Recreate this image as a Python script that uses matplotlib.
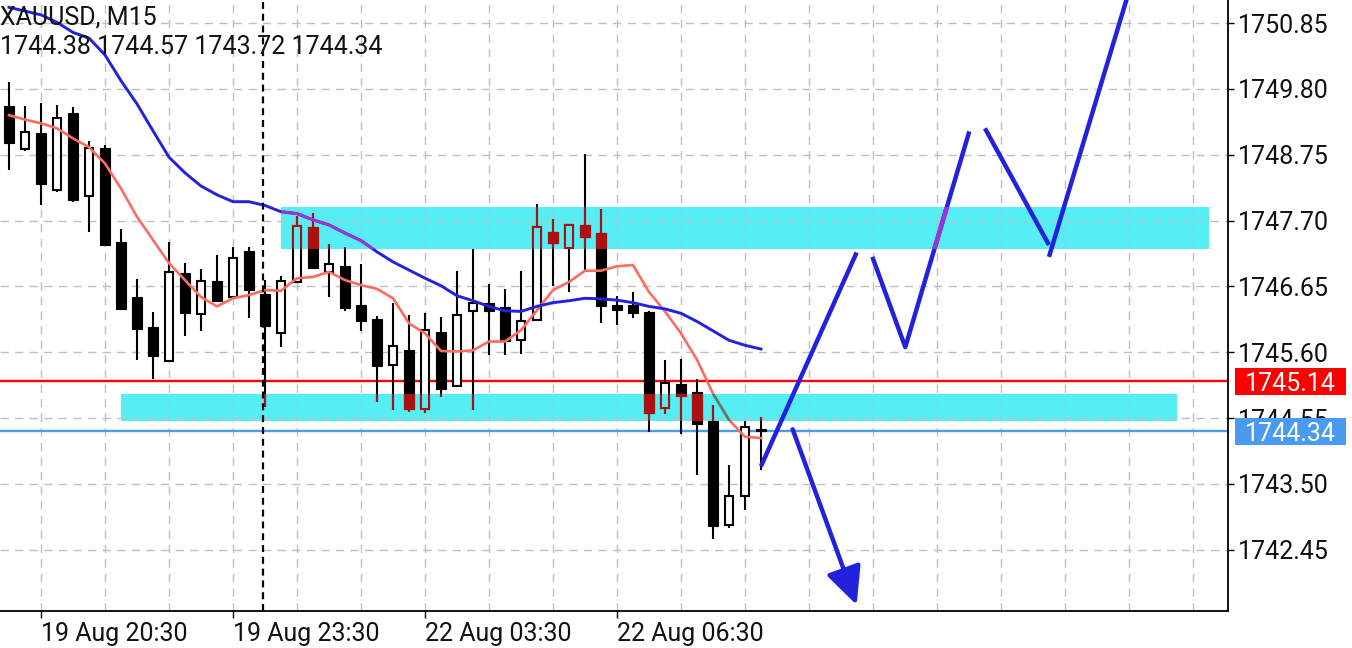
import matplotlib
matplotlib.use("Agg")
import matplotlib.pyplot as plt
from matplotlib.patches import Rectangle
from matplotlib.transforms import blended_transform_factory

plt.rcParams["lines.scale_dashes"] = False

# ---------------- data ----------------
symbol_title = "XAUUSD, M15"
last_ohlc = [1744.38, 1744.57, 1743.72, 1744.34]

opens = [1749.52, 1748.84, 1749.09, 1748.19, 1749.41, 1748.09, 1748.85, 1747.35,
         1746.48, 1746.00, 1745.46, 1746.87, 1746.21, 1746.74, 1746.48, 1747.21,
         1746.53, 1745.91, 1746.72, 1747.59, 1746.88, 1746.97, 1746.35, 1746.13,
         1745.40, 1745.63, 1744.69, 1745.92, 1745.06, 1746.26, 1746.38, 1746.32,
         1745.79, 1746.11, 1747.51, 1747.26, 1747.63, 1747.50, 1746.36, 1746.36,
         1746.24, 1744.71, 1745.09, 1744.97, 1744.50, 1742.84, 1743.30, 1744.38]
highs = [1749.91, 1749.52, 1749.57, 1749.54, 1749.51, 1748.97, 1748.90, 1747.56,
         1746.76, 1746.24, 1747.35, 1747.03, 1746.92, 1747.15, 1747.27, 1747.27,
         1746.75, 1746.81, 1747.77, 1747.82, 1747.32, 1747.27, 1747.01, 1746.18,
         1746.38, 1746.20, 1746.22, 1746.16, 1746.89, 1747.24, 1746.69, 1746.60,
         1746.89, 1747.96, 1747.72, 1747.65, 1748.76, 1747.89, 1746.50, 1746.56,
         1746.25, 1745.48, 1745.49, 1745.18, 1744.75, 1743.80, 1744.50, 1744.57]
lows = [1748.51, 1748.81, 1747.95, 1748.16, 1748.00, 1747.52, 1747.29, 1746.27,
        1745.48, 1745.17, 1745.45, 1745.86, 1745.94, 1746.40, 1746.46, 1746.14,
        1744.73, 1745.69, 1746.71, 1746.94, 1746.48, 1746.26, 1745.94, 1744.81,
        1744.67, 1744.64, 1744.63, 1744.88, 1745.05, 1744.67, 1745.55, 1745.55,
        1745.57, 1746.09, 1746.66, 1746.56, 1746.91, 1746.06, 1746.03, 1746.14,
        1744.32, 1744.61, 1744.29, 1743.64, 1742.62, 1742.79, 1743.08, 1743.72]
closes = [1748.93, 1749.11, 1748.29, 1749.34, 1748.02, 1748.85, 1747.31, 1746.29,
          1745.97, 1745.54, 1746.88, 1746.22, 1746.74, 1746.42, 1747.11, 1746.59,
          1746.01, 1746.74, 1747.62, 1746.95, 1747.00, 1746.31, 1746.10, 1745.38,
          1745.70, 1744.70, 1745.95, 1745.02, 1746.20, 1746.39, 1746.26, 1745.78,
          1746.09, 1747.59, 1747.34, 1747.63, 1747.44, 1746.33, 1746.27, 1746.22,
          1744.63, 1745.11, 1744.90, 1744.45, 1742.82, 1743.30, 1744.41, 1744.34]

ma_fast = [1749.38, 1749.31, 1749.25, 1749.17, 1749.01, 1748.87, 1748.61, 1748.21,
           1747.76, 1747.39, 1747.02, 1746.75, 1746.48, 1746.33, 1746.46, 1746.51,
           1746.59, 1746.58, 1746.78, 1746.80, 1746.88, 1746.75, 1746.67, 1746.61,
           1746.46, 1746.06, 1745.90, 1745.62, 1745.61, 1745.63, 1745.77, 1745.77,
           1745.95, 1746.27, 1746.59, 1746.72, 1746.90, 1746.90, 1746.97, 1746.99,
           1746.56, 1746.25, 1745.90, 1745.48, 1744.94, 1744.52, 1744.25, 1744.23]
ma_slow = [1751.10, 1751.04, 1750.98, 1750.86, 1750.70, 1750.61, 1750.34, 1749.93,
           1749.56, 1749.13, 1748.71, 1748.46, 1748.25, 1748.11, 1748.00, 1748.00,
           1747.94, 1747.84, 1747.81, 1747.71, 1747.63, 1747.50, 1747.38, 1747.20,
           1747.04, 1746.91, 1746.78, 1746.66, 1746.50, 1746.42, 1746.33, 1746.26,
           1746.25, 1746.33, 1746.39, 1746.42, 1746.46, 1746.45, 1746.43, 1746.39,
           1746.33, 1746.29, 1746.22, 1746.09, 1745.94, 1745.79, 1745.71, 1745.65]

time_tick_bars = [2, 14, 26, 38]
time_tick_labels = ["19 Aug 20:30", "19 Aug 23:30", "22 Aug 03:30", "22 Aug 06:30"]
price_ticks = [1742.45, 1743.50, 1744.55, 1745.60, 1746.65, 1747.70, 1748.75, 1749.80, 1750.85]
ask_price = 1745.14
bid_price = 1744.34

# zones: (first bar, last bar, low price, high price)
upper_zone = (17, 75, 1747.25, 1747.92)
lower_zone = (7, 73, 1744.50, 1744.93)

# hand-drawn trend lines: (bar index list, price list)
draw_up = ([47.0, 52.98], [1743.78, 1747.19])
draw_arrow = ([48.98, 52.98], [1744.37, 1741.57])
draw_w = ([53.96, 56.02, 60.02], [1747.12, 1745.68, 1749.12])
draw_v1 = ([61.0, 65.0], [1749.17, 1747.31])
draw_v2 = ([65.0, 71.0], [1747.12, 1752.20])

# ---------------- styling ----------------
C_ZONE = "#55eef5"
C_ZONE_CANDLE = "#aa1111"
C_BLUE = "#2222dd"
C_PURPLE = "#a033d6"
C_FAST = "#ff6b5e"
C_FAST_ZONE = "#5c7f6c"
C_GRID = "#bfbfbf"
C_RED = "#ff0000"
C_BID = "#4a9af2"
FONT = ["Roboto", "DejaVu Sans"]
FS = 18

W, H = 1352, 648
fig = plt.figure(figsize=(W / 100, H / 100), dpi=100)
ax = fig.add_axes([0, 37 / H, 1228 / W, 611 / H])
ax.set_xlim(-0.5625, 76.19)
ax.set_ylim(1741.472, 1751.217)

# zones
zone_patches = []
for (b0, b1, lo, hi) in (upper_zone, lower_zone):
    r = Rectangle((b0, lo), b1 - b0, hi - lo, facecolor=C_ZONE, edgecolor="none", zorder=0.2)
    ax.add_patch(r)
    zone_patches.append(r)

# grid
ax.set_axisbelow(True)
ax.set_xticks(range(2, 76, 4), minor=True)
ax.grid(True, which="both", color=C_GRID, linestyle=(0, (6, 4.5)), linewidth=1.0)


def draw_candles(edge, hollow_face, clip=None, z=3):
    arts = []
    for i, (o, h, l, c) in enumerate(zip(opens, highs, lows, closes)):
        arts.extend(ax.plot([i, i], [l, h], color=edge, lw=1.5, zorder=z,
                            solid_capstyle="butt"))
        top, bot = max(o, c), min(o, c)
        if c > o:
            body = Rectangle((i - 0.27, bot), 0.54, top - bot, facecolor=hollow_face,
                             edgecolor=edge, lw=1.5, zorder=z + 0.1)
        else:
            body = Rectangle((i - 0.31, bot), 0.62, top - bot, facecolor=edge,
                             edgecolor=edge, lw=0.8, zorder=z + 0.1)
        ax.add_patch(body)
        arts.append(body)
    if clip is not None:
        for a in arts:
            a.set_clip_path(clip)
    return arts


draw_candles("black", "white")
for zp in zone_patches:
    draw_candles(C_ZONE_CANDLE, C_ZONE, clip=zp, z=3.3)

# horizontal price lines
ax.axhline(ask_price, color=C_RED, lw=1.7, zorder=1.8)
ax.axhline(bid_price, color=C_BID, lw=1.7, zorder=1.8)

# moving averages
bars = list(range(len(closes)))
ax.plot(bars, ma_fast, color=C_FAST, lw=1.9, zorder=4)
ln = ax.plot(bars, ma_fast, color=C_FAST_ZONE, lw=1.9, zorder=4.1)[0]
ln.set_clip_path(zone_patches[1])
ax.plot(bars, ma_slow, color=C_BLUE, lw=2.1, zorder=4)
ln = ax.plot(bars, ma_slow, color=C_PURPLE, lw=2.1, zorder=4.1)[0]
ln.set_clip_path(zone_patches[0])

# day separator
ax.axvline(15.88, color="black", lw=1.6, linestyle=(0, (5, 3.5)), zorder=4.5)

# drawn trend lines
LW_DRAW = 3.2
for xs, ys in (draw_up, draw_w, draw_v1, draw_v2):
    ax.plot(xs, ys, color=C_BLUE, lw=LW_DRAW, zorder=5, solid_capstyle="butt")
ln = ax.plot(*draw_w, color=C_PURPLE, lw=LW_DRAW, zorder=5.1, solid_capstyle="butt")[0]
ln.set_clip_path(zone_patches[0])
ax.annotate("", xy=(draw_arrow[0][1], draw_arrow[1][1]),
            xytext=(draw_arrow[0][0], draw_arrow[1][0]),
            arrowprops=dict(arrowstyle="-|>,head_length=2.3,head_width=1.1",
                            mutation_scale=10, color=C_BLUE, lw=LW_DRAW,
                            shrinkA=0, shrinkB=0), zorder=5)

# axes styling
for s in ("left", "top"):
    ax.spines[s].set_visible(False)
ax.spines["bottom"].set_linewidth(1.3)
ax.spines["right"].set_linewidth(1.3)
ax.yaxis.tick_right()
ax.set_yticks(price_ticks)
ax.set_yticklabels([f"{p:.2f}" for p in price_ticks])
ax.tick_params(axis="y", which="major", length=4, width=1, pad=3, labelsize=FS,
               labelcolor="#111111")
ax.set_xticks(time_tick_bars)
ax.set_xticklabels(time_tick_labels)
ax.tick_params(axis="x", which="major", length=5, width=1, pad=3, labelsize=FS,
               labelcolor="#111111")
ax.tick_params(axis="x", which="minor", length=0)
for lab in ax.get_yticklabels():
    lab.set_fontfamily(FONT)
for lab in ax.get_xticklabels():
    lab.set_fontfamily(FONT)
    lab.set_horizontalalignment("left")

# price label boxes
trans = blended_transform_factory(ax.transAxes, ax.transData)
box_x0 = 1235 / 1228
box_w = 111 / 1228
box_h = 27 / 62.7
for price, col in ((ask_price, C_RED), (bid_price, C_BID)):
    ax.add_patch(Rectangle((box_x0, price - box_h / 2), box_w, box_h, transform=trans,
                           facecolor=col, edgecolor="none", clip_on=False, zorder=10))
    ax.text(box_x0 + box_w / 2, price, f"{price:.2f}", transform=trans, ha="center",
            va="center_baseline", color="white", fontsize=FS, family=FONT,
            zorder=11, clip_on=False)

# header
ax.text(0.0, 1 - 25 / 611, symbol_title, transform=ax.transAxes, fontsize=FS,
        family=FONT, color="#111111", va="baseline", ha="left", zorder=12)
ax.text(0.0, 1 - 54 / 611, " ".join(f"{v:.2f}" for v in last_ohlc),
        transform=ax.transAxes, fontsize=FS, family=FONT, color="#111111",
        va="baseline", ha="left", zorder=12)

fig.savefig("out.png", dpi=100, facecolor="white")
